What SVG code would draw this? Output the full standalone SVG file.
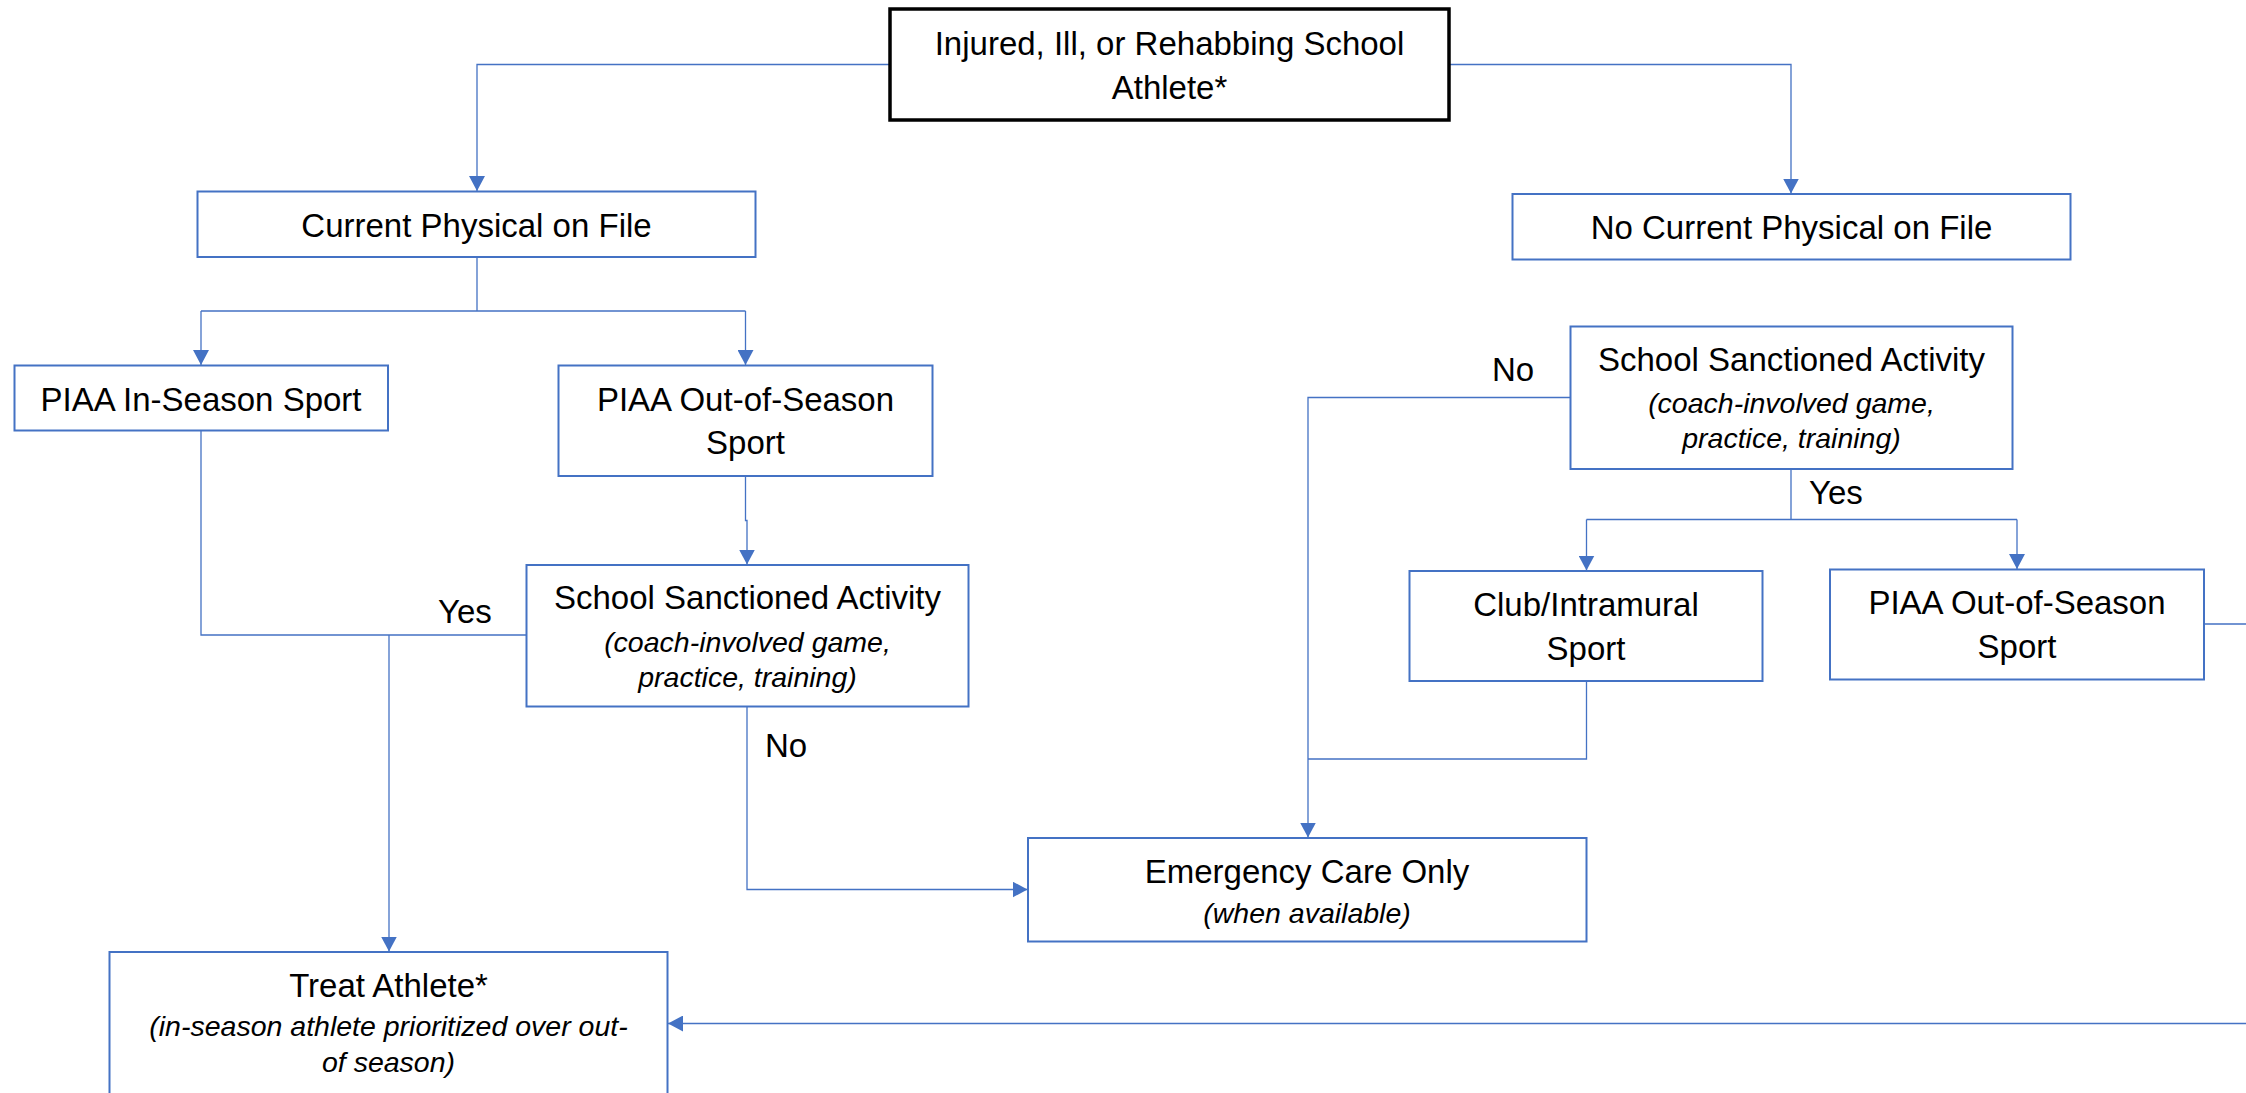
<svg xmlns="http://www.w3.org/2000/svg" width="2246" height="1093" viewBox="0 0 2246 1093">
<style>
.box{fill:#fff;stroke:#4472C4;stroke-width:2}
.top{fill:#fff;stroke:#000;stroke-width:3.5}
.t{font-family:"Liberation Sans",Arial,sans-serif;font-size:33px;fill:#000;text-anchor:middle}
.i{font-family:"Liberation Sans",Arial,sans-serif;font-size:28.5px;font-style:italic;fill:#000;text-anchor:middle}
.lbl{font-family:"Liberation Sans",Arial,sans-serif;font-size:33px;fill:#000}
.c{fill:none;stroke:#4472C4;stroke-width:1.3}
</style>
<defs>
<marker id="ah" markerUnits="userSpaceOnUse" markerWidth="16" markerHeight="16" refX="15" refY="8" orient="auto" viewBox="0 0 16 16">
<path d="M0,0 L15,8 L0,16 z" fill="#4472C4"/>
</marker>
</defs>
<rect width="2246" height="1093" fill="#fff"/>
<g id="connectors">
<path class="c" d="M890,64.5 H477 V191" marker-end="url(#ah)"/>
<path class="c" d="M1449,64.5 H1791 V193.5" marker-end="url(#ah)"/>
<path class="c" d="M477,257 V311 M201,311 H745.5"/>
<path class="c" d="M201,311 V365" marker-end="url(#ah)"/>
<path class="c" d="M745.5,311 V365" marker-end="url(#ah)"/>
<path class="c" d="M745.5,476 V520.5 H747 V564.5" marker-end="url(#ah)"/>
<path class="c" d="M201,431 V635 H526.5"/>
<path class="c" d="M389,635 V951.5" marker-end="url(#ah)"/>
<path class="c" d="M747,707 V889.5 H1027.5" marker-end="url(#ah)"/>
<path class="c" d="M1570.5,397.5 H1308 V837.5" marker-end="url(#ah)"/>
<path class="c" d="M1791,469 V519.5 M1586.5,519.5 H2017"/>
<path class="c" d="M1586.5,519.5 V570.5" marker-end="url(#ah)"/>
<path class="c" d="M2017,519.5 V569" marker-end="url(#ah)"/>
<path class="c" d="M1586.5,681 V759 H1308"/>
<path class="c" d="M2204,624 H2270 V1023.5 H668" marker-end="url(#ah)"/>
</g>
<g id="n-start">
<rect class="top" x="890" y="9" width="559" height="111"/>
<text class="t" x="1169.5" y="54.5">Injured, Ill, or Rehabbing School</text>
<text class="t" x="1169.5" y="98.5">Athlete*</text>
</g>
<g id="n-current">
<rect class="box" x="197.5" y="191.5" width="558" height="65.5"/>
<text class="t" x="476.5" y="236.5">Current Physical on File</text>
</g>
<g id="n-nocurrent">
<rect class="box" x="1512.5" y="194" width="558" height="65.5"/>
<text class="t" x="1791.5" y="238.5">No Current Physical on File</text>
</g>
<g id="n-inseason">
<rect class="box" x="14.5" y="365.5" width="373.5" height="65"/>
<text class="t" x="201" y="411">PIAA In-Season Sport</text>
</g>
<g id="n-outseason-left">
<rect class="box" x="558.5" y="365.5" width="374" height="110.5"/>
<text class="t" x="745.5" y="411">PIAA Out-of-Season</text>
<text class="t" x="745.5" y="454">Sport</text>
</g>
<g id="n-sanctioned-left">
<rect class="box" x="526.5" y="565" width="442" height="141.5"/>
<text class="t" x="747.5" y="609">School Sanctioned Activity</text>
<text class="i" x="747.5" y="651.5">(coach-involved game,</text>
<text class="i" x="747.5" y="686.5">practice, training)</text>
</g>
<g id="n-sanctioned-right">
<rect class="box" x="1570.5" y="326.5" width="442" height="142.5"/>
<text class="t" x="1791.5" y="370.5">School Sanctioned Activity</text>
<text class="i" x="1791.5" y="413">(coach-involved game,</text>
<text class="i" x="1791.5" y="448">practice, training)</text>
</g>
<g id="n-club">
<rect class="box" x="1409.5" y="571" width="353" height="110"/>
<text class="t" x="1586" y="616">Club/Intramural</text>
<text class="t" x="1586" y="659.5">Sport</text>
</g>
<g id="n-outseason-right">
<rect class="box" x="1830" y="569.5" width="374" height="110"/>
<text class="t" x="2017" y="613.5">PIAA Out-of-Season</text>
<text class="t" x="2017" y="657.5">Sport</text>
</g>
<g id="n-emergency">
<rect class="box" x="1028" y="838" width="558.5" height="103.5"/>
<text class="t" x="1307" y="882.5">Emergency Care Only</text>
<text class="i" x="1307" y="923">(when available)</text>
</g>
<g id="n-treat">
<rect class="box" x="109.5" y="952" width="558" height="160"/>
<text class="t" x="388.5" y="997">Treat Athlete*</text>
<text class="i" x="388.5" y="1036">(in-season athlete prioritized over out-</text>
<text class="i" x="388.5" y="1071.5">of season)</text>
</g>
<g id="labels">
<text class="lbl" x="1492" y="380.5">No</text>
<text class="lbl" x="1809" y="504">Yes</text>
<text class="lbl" x="438" y="622.5">Yes</text>
<text class="lbl" x="765" y="756.5">No</text>
</g>
</svg>
